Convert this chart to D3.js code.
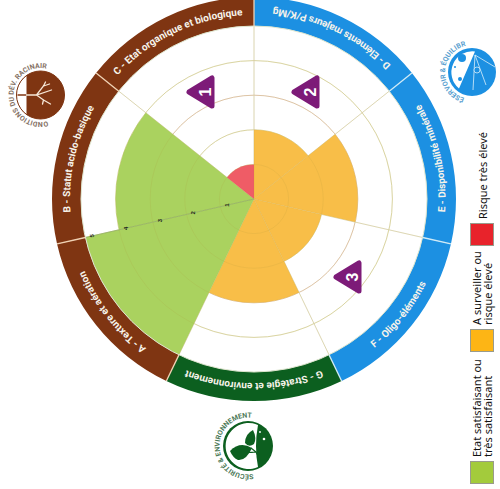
<!DOCTYPE html>
<html>
<head>
<meta charset="utf-8">
<script src="https://cdn.jsdelivr.net/npm/d3@7"></script>
<style>
  html, body { margin: 0; padding: 0; background: #fff; }
  svg { display: block; }
</style>
</head>
<body>
<script>
// sectors run clockwise from the top
const sectors = ['D', 'E', 'F', 'G', 'A', 'B', 'C'];
const sectorLabels = [
  'D - Eléments majeurs P/K/Mg',
  'E - Disponibilité minérale',
  'F - Oligo-éléments',
  'G - Stratégie et environnement',
  'A - Texture et aération',
  'B - Statut acido-basique',
  'C - Etat organique et biologique'
];
const sectorValues = [2, 3, 2, 3, 5, 4, 1];
const ringColors = ['#1c90e2', '#1c90e2', '#1c90e2', '#0c5f1f', '#7f3512', '#7f3512', '#7f3512'];
const levels = [1, 2, 3, 4, 5];
const legendItems = [
  { color: '#e8232b', lines: ['Risque très élevé'] },
  { color: '#fdb515', lines: ['A surveiller ou', 'risque élevé'] },
  { color: '#a3cb3c', lines: ['Etat satisfaisant ou', 'très satisfaisant'] }
];
const markers = ['1', '2', '3'];

const w = 500, h = 489, cx = 254, cy = 199;
const innerRing = 173, outerRing = 202;
const step = 2 * Math.PI / sectors.length;

const svg = d3.select('body').append('svg').attr('width', w).attr('height', h);
const chart = svg.append('g').attr('transform', `translate(${cx},${cy})`);
const r = d3.scaleLinear().domain([0, 5]).range([0, innerRing]);

function wedgeColor(v) {
  if (v <= 1) return '#ef5c66';
  if (v <= 3) return '#f8be48';
  return '#aad25f';
}
function polar(rad, a) {
  return [rad * Math.sin(a), -rad * Math.cos(a)];
}

// grid, once under the wedges and once faintly over them
function drawGrid(color, opacity) {
  const g = chart.append('g').attr('stroke-opacity', opacity).attr('fill', 'none');
  g.selectAll('circle').data(levels.slice(0, 4)).enter().append('circle')
    .attr('r', d => r(d))
    .attr('stroke', color || (d => d == 3 ? '#e6cdb8' : '#e2dfb4'));
  g.selectAll('line').data(sectors).enter().append('line')
    .attr('x2', (d, i) => polar(innerRing, i * step)[0])
    .attr('y2', (d, i) => polar(innerRing, i * step)[1])
    .attr('stroke', color || '#e6e2c8');
}
drawGrid(null, 1);

// value wedges
const arc = d3.arc();
chart.selectAll('path.wedge').data(sectorValues).enter().append('path')
  .attr('class', 'wedge')
  .attr('fill', d => wedgeColor(d))
  .attr('d', (d, i) => arc({ innerRadius: 0, outerRadius: r(d), startAngle: i * step, endAngle: (i + 1) * step }));
drawGrid('#a8923a', 0.14);

// axis line and its numbers, on the A/B spoke
const axisAngle = 5 * step;
chart.append('line')
  .attr('x2', polar(innerRing, axisAngle)[0])
  .attr('y2', polar(innerRing, axisAngle)[1])
  .attr('stroke', '#93b266')
  .attr('stroke-width', 0.8);
chart.selectAll('text.level').data(levels).enter().append('text')
  .attr('class', 'level')
  .text(d => d)
  .attr('transform', d => {
    const p = polar(r(d) - 7, axisAngle);
    return `translate(${p[0]},${p[1]}) rotate(-90)`;
  })
  .attr('text-anchor', 'middle')
  .attr('dy', '0.35em')
  .style('font', 'bold 6px "Liberation Sans"')
  .attr('fill', '#1d2a1a');

// outer ring
chart.selectAll('path.ring').data(sectors).enter().append('path')
  .attr('class', 'ring')
  .attr('fill', (d, i) => ringColors[i])
  .attr('d', (d, i) => arc({ innerRadius: innerRing, outerRadius: outerRing, startAngle: i * step, endAngle: (i + 1) * step }));
chart.append('circle').attr('r', innerRing).attr('fill', 'none').attr('stroke', '#dfe6cf').attr('stroke-width', 1);
chart.selectAll('line.sep').data(sectors).enter().append('line')
  .attr('class', 'sep')
  .attr('x1', (d, i) => polar(innerRing, i * step)[0])
  .attr('y1', (d, i) => polar(innerRing, i * step)[1])
  .attr('x2', (d, i) => polar(outerRing, i * step)[0])
  .attr('y2', (d, i) => polar(outerRing, i * step)[1])
  .attr('stroke', (d, i) => ringColors[i] == '#7f3512' || ringColors[(i + 6) % 7] == '#7f3512' ? '#f0d2b4' : '#cfeaf6')
  .attr('stroke-width', 1.3);

// ring labels follow the arc, clockwise or counter clockwise as on the original
const defs = svg.append('defs');
sectorLabels.forEach((label, i) => {
  const ccw = i < 3;
  const mid = (i + 0.5) * step - Math.PI / 2;
  const rad = ccw ? 191.5 : 184;
  const p = d3.path();
  if (ccw) p.arc(0, 0, rad, mid + step / 2 + 0.3, mid - step / 2 - 0.3, true);
  else p.arc(0, 0, rad, mid - step / 2 - 0.3, mid + step / 2 + 0.3, false);
  defs.append('path').attr('id', 'lab' + i).attr('d', p.toString());
  chart.append('text')
    .attr('fill', '#f7f3ea')
    .style('font', 'bold 10px Roboto')
    .append('textPath')
    .attr('href', '#lab' + i)
    .attr('startOffset', '50%')
    .attr('text-anchor', 'middle')
    .text(label);
});

// purple markers
const markerSpots = [[204, 92], [309, 92], [351, 277]];
markers.forEach((m, i) => {
  const g = svg.append('g').attr('transform', `translate(${markerSpots[i][0]},${markerSpots[i][1]})`);
  g.append('path')
    .attr('d', 'M-15,0L8,-14L8,14Z')
    .attr('fill', '#7d1b78')
    .attr('stroke', '#7d1b78')
    .attr('stroke-width', 5)
    .attr('stroke-linejoin', 'round');
  g.append('text').text(m)
    .attr('transform', 'translate(1,0) rotate(-90)')
    .attr('text-anchor', 'middle')
    .attr('dy', '0.36em')
    .attr('fill', '#fff')
    .style('font', 'bold 16px "Liberation Sans"');
});

// round icons with text around them
function iconText(g, id, label, rad, a0, a1, color) {
  const p = d3.path();
  const s = Math.PI / 180;
  p.arc(0, 0, rad, (a0 - 90) * s, (a1 - 90) * s, false);
  g.append('defs').append('path').attr('id', id).attr('d', p.toString());
  g.append('text')
    .attr('fill', color)
    .style('font', 'bold 7px Roboto')
    .append('textPath')
    .attr('href', '#' + id)
    .attr('startOffset', '50%')
    .attr('text-anchor', 'middle')
    .text(label);
}

// root development
const ic1 = svg.append('g').attr('transform', 'translate(40.5,95)');
ic1.append('circle').attr('r', 24).attr('fill', '#7f3512');
ic1.append('path').attr('d', 'M-14,-19.5A24,24 0 0 0 -14,19.5Z').attr('fill', '#fff');
ic1.append('circle').attr('r', 24).attr('fill', 'none').attr('stroke', '#7f3512').attr('stroke-width', 1);
ic1.append('path').attr('d', 'M-23,0H-14').attr('stroke', '#7f3512').attr('stroke-width', 1.5);
ic1.append('path')
  .attr('d', 'M-14,0H-4L11,-5M-4,0L3,-9L5,-13M3,-9L9,-11M-4,0L3,5L10,9M3,5L2,9')
  .attr('fill', 'none').attr('stroke', '#f6e7d7').attr('stroke-width', 1.3).attr('stroke-linecap', 'round');
iconText(ic1, 'ic1t', 'CONDITIONS DU DÉV. RACINAIRE', 27, 160, 376, '#857265');

// reserve and balance
const ic2 = svg.append('g').attr('transform', 'translate(472,72)');
ic2.append('circle').attr('r', 24).attr('fill', '#1c90e2');
ic2.append('path').attr('d', 'M3,-20.5A21,21 0 0 0 -13,16.5Z').attr('fill', '#fff');
ic2.append('circle').attr('cx', -10).attr('cy', -14).attr('r', 4).attr('fill', '#1c90e2');
ic2.append('circle').attr('cx', -17).attr('cy', -5).attr('r', 1).attr('fill', '#1c90e2');
ic2.append('circle').attr('cx', -12).attr('cy', 7).attr('r', 2).attr('fill', '#1c90e2');
ic2.append('path').attr('d', 'M3,-17L23,-5M3,-17L14,13M3,-17L1,18')
  .attr('fill', 'none').attr('stroke', '#d9effa').attr('stroke-width', 0.8);
ic2.append('circle').attr('cx', 5).attr('cy', -2).attr('r', 3).attr('fill', '#1c90e2').attr('stroke', '#d9effa').attr('stroke-width', 0.8);
iconText(ic2, 'ic2t', 'RÉSERVOIR & ÉQUILIBRE', 27, 193, 349, '#5a9fd0');

// safety and environment
const ic3 = svg.append('g').attr('transform', 'translate(248,446)');
ic3.append('circle').attr('r', 25).attr('fill', '#0c5f1f');
ic3.append('path').attr('d', 'M10,-21A23,23 0 1 0 10,21Q6,0 10,-21Z').attr('fill', '#fff');
ic3.append('path').attr('d', 'M-18,5Q-8,-5 4,2Q-2,15 -10,14Q-15,12 -18,5Z').attr('fill', '#0c5f1f');
ic3.append('path').attr('d', 'M-3,-3Q-3,-12 5,-16Q9,-8 6,-2Q1,2 -3,-3Z').attr('fill', '#0c5f1f');
ic3.append('path').attr('d', 'M-12,6Q0,7 8,6L10,10M3,2L8,6').attr('fill', 'none').attr('stroke', '#0c5f1f').attr('stroke-width', 1.2);
ic3.append('circle').attr('cx', 16).attr('cy', -7).attr('r', 1.3).attr('fill', '#fff');
ic3.append('circle').attr('cx', 12).attr('cy', -14).attr('r', 0.9).attr('fill', '#fff');
iconText(ic3, 'ic3t', 'SÉCURITÉ & ENVIRONNEMENT', 28.5, 173, 364, '#4d7a58');

// legend, turned a quarter to read upward
const legendY = d3.scaleOrdinal().domain(legendItems.map(d => d.color)).range([223, 329, 461]);
const legend = svg.selectAll('g.legend').data(legendItems).enter().append('g').attr('class', 'legend');
legend.append('rect')
  .attr('x', 470.5)
  .attr('y', d => legendY(d.color) + 0.5)
  .attr('width', 23)
  .attr('height', 22)
  .attr('fill', d => d.color)
  .attr('stroke', '#999b8c');
legend.each(function(d) {
  const single = d.lines.length == 1;
  d.lines.forEach((line, j) => {
    const x = single ? 487 : 481 + j * 11;
    const y = legendY(d.color) - 4;
    d3.select(this).append('text').text(line)
      .attr('transform', `translate(${x},${y}) rotate(-90)`)
      .attr('fill', '#111')
      .style('font', '11px "Noto Sans"');
  });
});
</script>
</body>
</html>
